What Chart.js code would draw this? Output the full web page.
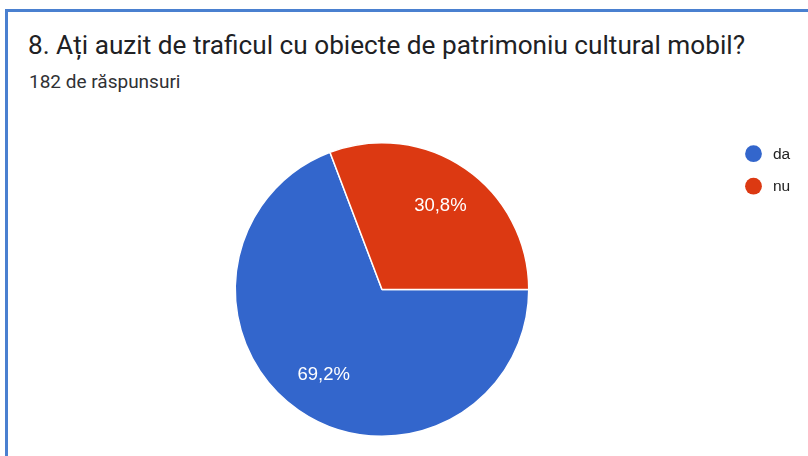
<!DOCTYPE html>
<html>
<head>
<meta charset="utf-8">
<script src="https://cdn.jsdelivr.net/npm/chart.js@4.4.1/dist/chart.umd.min.js"></script>
<style>
  html, body { margin: 0; padding: 0; background: #fff; }
  body { width: 808px; height: 456px; position: relative; overflow: hidden; font-family: Roboto, Arial, sans-serif; }
  .card { position: absolute; left: 5px; top: 9px; width: 900px; height: 600px;
          border-left: 3px solid #4a80d0; border-top: 3px solid #4a80d0; }
  .title { position: absolute; left: 28px; top: 29.5px; font-size: 26.2px; color: #202124; white-space: nowrap; }
  .subtitle { position: absolute; left: 29px; top: 69.5px; font-size: 19px; color: #303134; white-space: nowrap; }
  .wrap { position: absolute; left: 0; top: 130px; width: 808px; height: 320px; }
</style>
</head>
<body>
<div class="card"></div>
<div class="title">8. Ați auzit de traficul cu obiecte de patrimoniu cultural mobil?</div>
<div class="subtitle">182 de răspunsuri</div>
<div class="wrap"><canvas id="pieChart"></canvas></div>
<script>
const labels = ['da', 'nu'];
const responses = [126, 56];
const percentLabels = ['69,2%', '30,8%'];
const colors = ['#3366cc', '#dc3912'];

// percent text inside each slice
const sliceLabels = {
    id: 'sliceLabels',
    afterDatasetsDraw(chart) {
        const ctx = chart.ctx;
        const meta = chart.getDatasetMeta(0);
        ctx.save();
        ctx.fillStyle = '#ffffff';
        ctx.font = '18.5px "Liberation Sans", Arial';
        ctx.textAlign = 'center';
        ctx.textBaseline = 'middle';
        meta.data.forEach((arc, i) => {
            const p = arc.getProps(['x', 'y', 'startAngle', 'endAngle', 'outerRadius']);
            const mid = (p.startAngle + p.endAngle) / 2;
            const r = p.outerRadius * 0.70;
            ctx.fillText(percentLabels[i], p.x + Math.cos(mid) * r, p.y + Math.sin(mid) * r + 1);
        });
        ctx.restore();
    }
};

// legend on the right, dots + names
const sideLegend = {
    id: 'sideLegend',
    afterDraw(chart) {
        const ctx = chart.ctx;
        const ds = chart.data.datasets[0];
        ctx.save();
        ctx.font = '15.5px "Liberation Sans", Arial';
        ctx.textBaseline = 'middle';
        chart.data.labels.forEach((name, i) => {
            const y = 23.7 + i * 32.5;
            ctx.fillStyle = ds.backgroundColor[i];
            ctx.beginPath();
            ctx.arc(753.5, y, 8.4, 0, Math.PI * 2);
            ctx.fill();
            ctx.fillStyle = '#222222';
            ctx.fillText(name, 773, y + 1);
        });
        ctx.restore();
    }
};

new Chart(document.getElementById('pieChart'), {
    type: 'pie',
    data: {
        labels: labels,
        datasets: [{
            data: responses,
            backgroundColor: colors,
            borderColor: '#ffffff',
            borderWidth: 1.5
        }]
    },
    options: {
        responsive: true,
        maintainAspectRatio: false,
        animation: false,
        rotation: 90,
        layout: { padding: { top: 12, bottom: 13, left: 0, right: 44 } },
        plugins: {
            legend: { display: false },
            tooltip: { enabled: false }
        }
    },
    plugins: [sliceLabels, sideLegend]
});
</script>
</body>
</html>
